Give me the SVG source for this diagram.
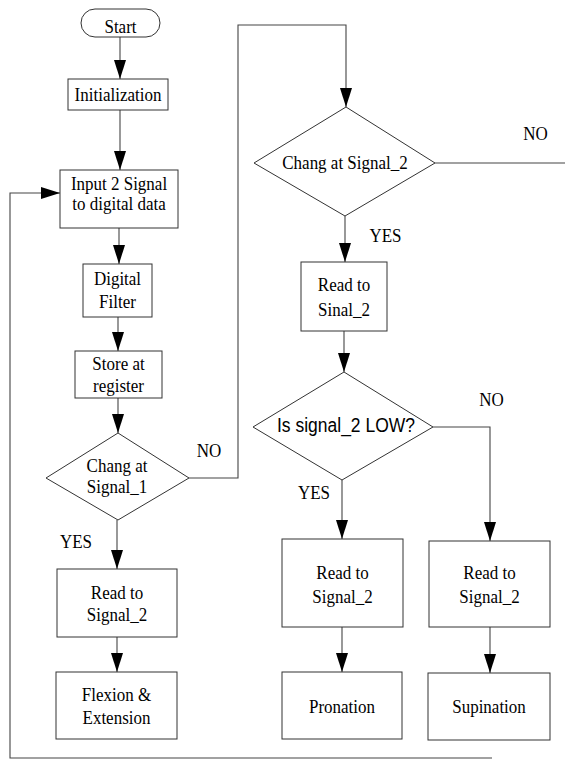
<svg xmlns="http://www.w3.org/2000/svg" width="565" height="763" viewBox="0 0 565 763">
  <style>
    .box { fill: #fff; stroke: #333; stroke-width: 1; }
    .ln { fill: none; stroke: #444; stroke-width: 1.1; }
    .t { font-family: "Liberation Serif", "Times New Roman", serif; font-size: 17px; fill: #000; text-anchor: middle; }
    .s { font-family: "Liberation Sans", Arial, sans-serif; font-size: 17.5px; fill: #000; text-anchor: middle; }
  </style>
  <defs>
    <marker id="arrow" markerUnits="userSpaceOnUse" markerWidth="20" markerHeight="12" refX="19" refY="6" orient="auto">
      <path d="M0,0 L19,6 L0,12 Z" fill="#000"/>
    </marker>
  </defs>

  <rect width="565" height="763" fill="#fff"/>

  <!-- connectors -->
  <g id="connectors" class="ln">
    <line x1="120" y1="37" x2="120" y2="79" marker-end="url(#arrow)"/>
    <line x1="120" y1="110" x2="120" y2="170" marker-end="url(#arrow)"/>
    <line x1="119" y1="228" x2="119" y2="264" marker-end="url(#arrow)"/>
    <line x1="118" y1="317" x2="118" y2="351" marker-end="url(#arrow)"/>
    <line x1="118" y1="398" x2="118" y2="433" marker-end="url(#arrow)"/>
    <line x1="117" y1="520" x2="117" y2="569" marker-end="url(#arrow)"/>
    <line x1="117" y1="637" x2="117" y2="672" marker-end="url(#arrow)"/>
    <polyline points="189,478 238,478 238,25 346,25 346,107" marker-end="url(#arrow)"/>
    <line x1="435" y1="163" x2="565" y2="163"/>
    <line x1="345" y1="216" x2="345" y2="262" marker-end="url(#arrow)"/>
    <line x1="344" y1="331" x2="344" y2="372" marker-end="url(#arrow)"/>
    <line x1="342" y1="480" x2="342" y2="539" marker-end="url(#arrow)"/>
    <polyline points="433,427 490,427 490,541" marker-end="url(#arrow)"/>
    <line x1="342" y1="627" x2="342" y2="672" marker-end="url(#arrow)"/>
    <line x1="490" y1="627" x2="490" y2="673" marker-end="url(#arrow)"/>
    <polyline points="492,758 10,758 10,193 60,193" marker-end="url(#arrow)"/>
  </g>

  <!-- branch labels -->
  <g id="labels">
    <text class="t" transform="translate(209 457) scale(1 1.15)">NO</text>
    <text class="t" transform="translate(76 548) scale(1 1.15)">YES</text>
    <text class="t" transform="translate(535.5 140) scale(1 1.15)">NO</text>
    <text class="t" transform="translate(385.5 242) scale(1 1.15)">YES</text>
    <text class="t" transform="translate(491.5 406) scale(1 1.15)">NO</text>
    <text class="t" transform="translate(314 499) scale(1 1.15)">YES</text>
  </g>

  <g id="start">
    <rect class="box" x="81" y="9" width="79" height="28" rx="14"/>
    <text class="t" transform="translate(120.5 33) scale(1 1.15)">Start</text>
  </g>

  <g id="init">
    <rect class="box" x="68" y="79" width="100" height="31"/>
    <text class="t" transform="translate(118 101) scale(1 1.15)">Initialization</text>
  </g>

  <g id="input">
    <rect class="box" x="60" y="170" width="118" height="58"/>
    <text class="t" transform="translate(119 190) scale(1 1.12)"><tspan x="0" y="0">Input 2 Signal</tspan><tspan x="0" y="18">to digital data</tspan></text>
  </g>

  <g id="filter">
    <rect class="box" x="83" y="264" width="69" height="53"/>
    <text class="t" transform="translate(117.5 285) scale(1 1.15)"><tspan x="0" y="0">Digital</tspan><tspan x="0" y="20">Filter</tspan></text>
  </g>

  <g id="store">
    <rect class="box" x="75" y="351" width="87" height="47"/>
    <text class="t" transform="translate(118.5 370) scale(1 1.15)"><tspan x="0" y="0">Store at</tspan><tspan x="0" y="19.1">register</tspan></text>
  </g>

  <g id="check1">
    <polygon class="box" points="118,433 189,478 118,520 46,478"/>
    <text class="t" transform="translate(117 472) scale(1 1.15)"><tspan x="0" y="0">Chang at</tspan><tspan x="0" y="18.3">Signal_1</tspan></text>
  </g>

  <g id="read1">
    <rect class="box" x="57" y="569" width="120" height="68"/>
    <text class="t" transform="translate(117 599) scale(1 1.15)"><tspan x="0" y="0">Read to</tspan><tspan x="0" y="19.1">Signal_2</tspan></text>
  </g>

  <g id="flexion">
    <rect class="box" x="56" y="672" width="121" height="67"/>
    <text class="t" transform="translate(116.5 701) scale(1 1.15)"><tspan x="0" y="0">Flexion &amp;</tspan><tspan x="0" y="20">Extension</tspan></text>
  </g>

  <g id="check2">
    <polygon class="box" points="346,107 435,163 345,216 254,163"/>
    <text class="t" transform="translate(345 169) scale(1 1.15)">Chang at Signal_2</text>
  </g>

  <g id="read2">
    <rect class="box" x="301" y="262" width="86" height="69"/>
    <text class="t" transform="translate(344 291) scale(1 1.15)"><tspan x="0" y="0">Read to</tspan><tspan x="0" y="21.7">Sinal_2</tspan></text>
  </g>

  <g id="check3">
    <polygon class="box" points="344,372 433,427 342,480 253,427"/>
    <text class="s" transform="translate(346 432) scale(1 1.15)">Is signal_2 LOW?</text>
  </g>

  <g id="read3">
    <rect class="box" x="282" y="539" width="121" height="88"/>
    <text class="t" transform="translate(342.5 579) scale(1 1.15)"><tspan x="0" y="0">Read to</tspan><tspan x="0" y="20.9">Signal_2</tspan></text>
  </g>

  <g id="read4">
    <rect class="box" x="429" y="541" width="121" height="86"/>
    <text class="t" transform="translate(489.5 579) scale(1 1.15)"><tspan x="0" y="0">Read to</tspan><tspan x="0" y="20.9">Signal_2</tspan></text>
  </g>

  <g id="pronation">
    <rect class="box" x="282" y="672" width="120" height="67"/>
    <text class="t" transform="translate(342 713) scale(1 1.15)">Pronation</text>
  </g>

  <g id="supination">
    <rect class="box" x="428" y="673" width="122" height="67"/>
    <text class="t" transform="translate(489 713) scale(1 1.15)">Supination</text>
  </g>
</svg>
